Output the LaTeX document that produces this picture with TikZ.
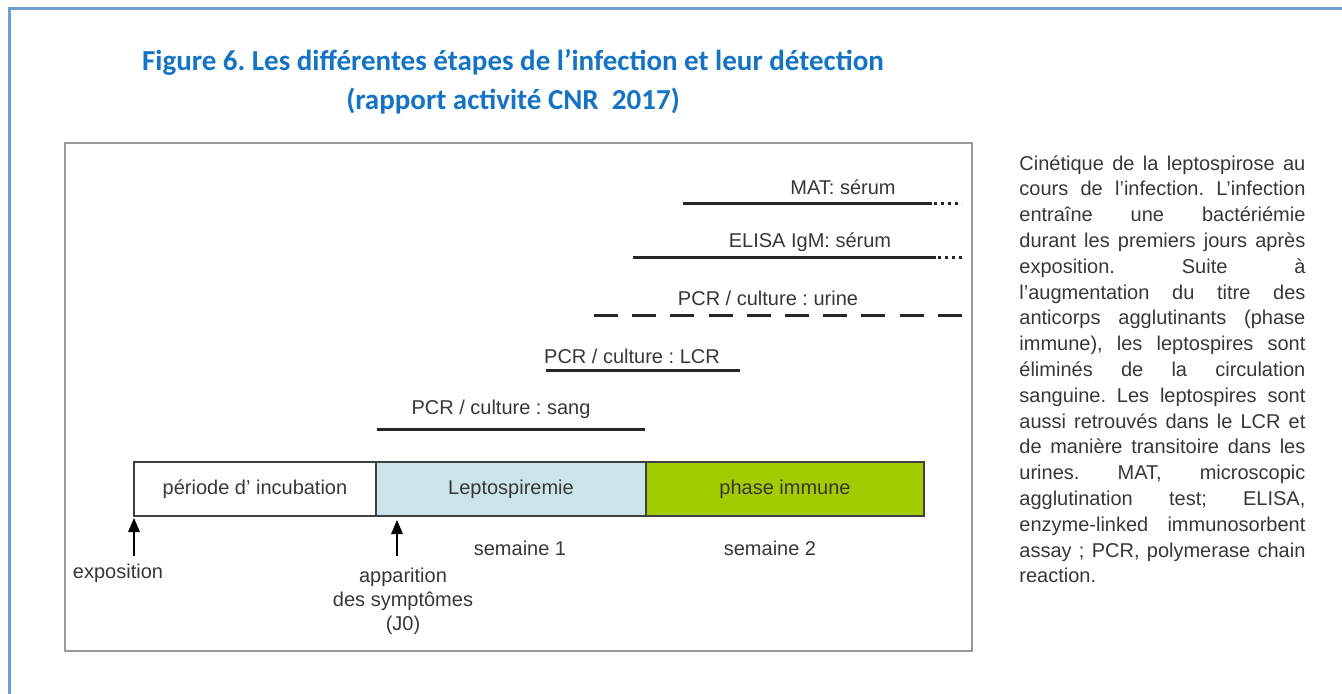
\documentclass[tikz,border=0pt]{standalone}
\usepackage{fontspec}
\setmainfont{Liberation Sans}
\newfontfamily\titlefont{Carlito}
\usetikzlibrary{arrows}
\definecolor{titleblue}{RGB}{20,115,195}
\definecolor{frameblue}{RGB}{110,160,215}
\definecolor{leptoblue}{RGB}{202,228,234}
\definecolor{immgreen}{RGB}{162,204,0}
\definecolor{txtgray}{RGB}{55,55,55}
\newcommand{\jline}[1]{\makebox[143pt][s]{#1}\\}
\frenchspacing

\begin{document}
\begin{tikzpicture}[line cap=butt,line join=miter,>=triangle 45,x=0.5pt,y=-0.5pt]
				\useasboundingbox (0,0) rectangle (1342,694);
				\draw[color=frameblue,line width=1.5pt] (1342,9) -- (9,9) -- (9,694);
				% titre
				\node[color=titleblue,font=\titlefont\bfseries\fontsize{14.5}{17}\selectfont] (titre1) at (513,62) {Figure 6. Les différentes étapes de l’infection et leur détection};
				\node[color=titleblue,font=\titlefont\bfseries\fontsize{14.5}{17}\selectfont] (titre2) at (513,101) {(rapport activité CNR~~2017)};
				% cadre du schema
				\draw[color=gray!80,line width=1pt] (65,143) rectangle (972,651);
				% phases
				\draw[color=black!75,line width=0.8pt] (134,462) rectangle (376,516) node[midway,color=txtgray] (incub) {période d’ incubation};
				\draw[color=black!75,fill=leptoblue,line width=0.8pt] (376,462) rectangle (646,516) node[midway,color=txtgray] (lepto) {Leptospiremie};
				\draw[color=black!75,fill=immgreen,line width=0.8pt] (646,462) rectangle (924,516) node[midway,color=txtgray] (immun) {phase immune};
				% reperes
				\node[color=txtgray] (expo) at (118,573) {exposition};
				\node[color=txtgray,align=center,text depth=0pt] (appar) at (403,599) {apparition\\des symptômes\\(J0)};
				\coordinate (e0) at (134,556);
				\coordinate (j0) at (397,556);
				\draw[->,line width=0.6pt] (e0) -- (134,518);
				\draw[->,line width=0.6pt] (j0) -- (397,520);
				\node[color=txtgray] (sem1) at (520,548) {semaine 1};
				\node[color=txtgray] (sem2) at (770,548) {semaine 2};
				% examens
				\draw[line width=1.5pt,color=black!85] (377,430) -- (645,430);
				\node[color=txtgray] (sang) at (501,409) {PCR / culture : sang};
				\draw[line width=1.5pt,color=black!85] (546,371) -- (740,371);
				\node[color=txtgray] (lcr) at (632,356) {PCR / culture : LCR};
				\draw[line width=1.5pt,color=black!85,dash pattern=on 12pt off 7.1pt] (594,316) -- (962,316);
				\node[color=txtgray] (urine) at (768,298) {PCR / culture : urine};
				\draw[line width=1.5pt,color=black!85] (633,258) -- (936,258);
				\draw[line width=1.5pt,color=black!85,dash pattern=on 1.3pt off 2.2pt] (938,258) -- (962,258);
				\node[color=txtgray] (elisa) at (810,242) {ELISA IgM: sérum};
				\draw[line width=1.5pt,color=black!85] (683,204) -- (932,204);
				\draw[line width=1.5pt,color=black!85,dash pattern=on 1.3pt off 2.2pt] (934,204) -- (962,204);
				\node[color=txtgray] (mat) at (843,187) {MAT: sérum};
				% legende
				\node[anchor=north west,inner sep=0pt,color=txtgray] (legende) at (1019,155) {\parbox{143pt}{\fontsize{10}{12.9}\selectfont
				\jline{Cinétique de la leptospirose au}
				\jline{cours de l’infection. L’infection}
				\jline{entraîne une bactériémie}
				\jline{durant les premiers jours après}
				\jline{exposition. Suite à}
				\jline{l’augmentation du titre des}
				\jline{anticorps agglutinants (phase}
				\jline{immune), les leptospires sont}
				\jline{éliminés de la circulation}
				\jline{sanguine. Les leptospires sont}
				\jline{aussi retrouvés dans le LCR et}
				\jline{de manière transitoire dans les}
				\jline{urines. MAT, microscopic}
				\jline{agglutination test; ELISA,}
				\jline{enzyme-linked immunosorbent}
				\jline{assay ; PCR, polymerase chain}
				reaction.}};
\end{tikzpicture}
\end{document}
